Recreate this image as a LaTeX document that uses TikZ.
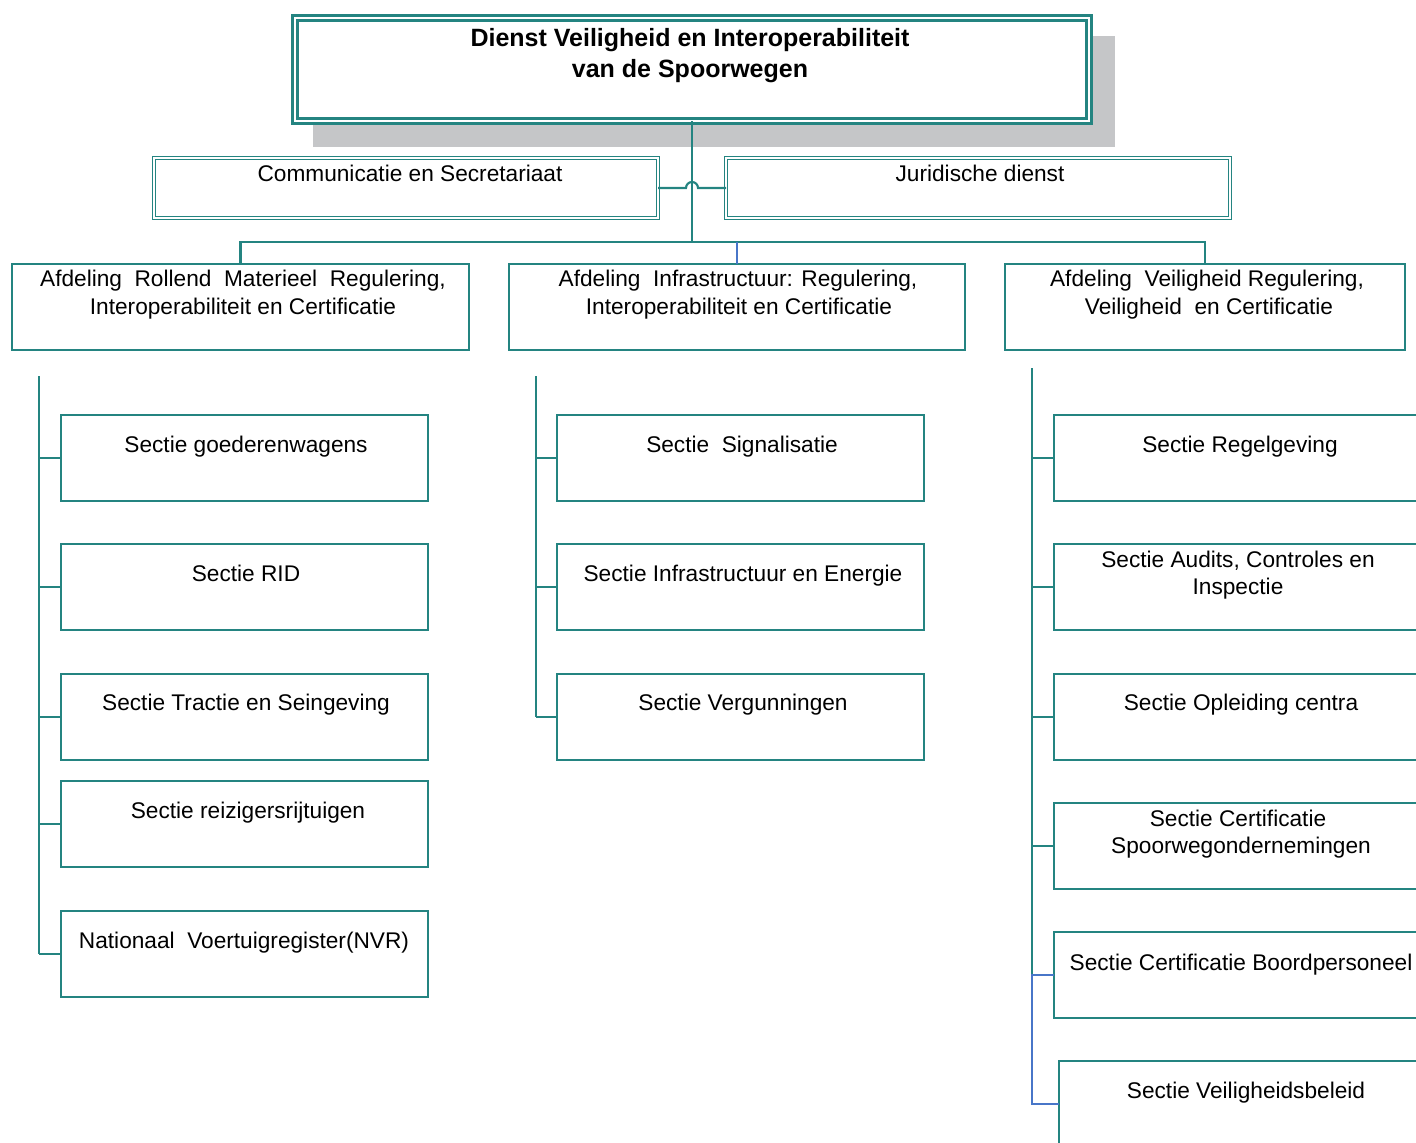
\documentclass[tikz,border=0pt]{standalone}
\usepackage{fontspec}
\setmainfont{Liberation Sans}
\usetikzlibrary{calc}
\definecolor{teal1}{RGB}{36,132,129}
\definecolor{blue1}{RGB}{72,118,200}
\definecolor{shadowgray}{RGB}{197,198,200}
\begin{document}
\begin{tikzpicture}[x=0.75pt,y=-0.75pt,
  sz/.style 2 args={minimum width=#1*0.75pt,minimum height=#2*0.75pt},
  box/.style={rectangle,draw=teal1,line width=1.6pt,fill=white,inner sep=0pt,outer sep=0pt},
  dbox/.style={rectangle,draw=teal1,double=white,line width=1.3pt,double distance=1.0pt,fill=white,inner sep=0pt,outer sep=0pt},
  tbox/.style={rectangle,draw=teal1,double=white,line width=2.0pt,double distance=1.3pt,fill=white,inner sep=0pt,outer sep=0pt},
  lbl/.style={anchor=base,inner sep=0pt,font=\fontsize{17}{20}\selectfont},
  ttl/.style={anchor=base,inner sep=0pt,font=\fontsize{18.75}{23}\selectfont\bfseries},
  conn/.style={draw=teal1,line width=1.6pt},
  bconn/.style={draw=blue1,line width=1.6pt}]
\useasboundingbox (0,0) rectangle (1416,1142);
\clip (0,0) rectangle (1416,1142);

% shadow of the top box
\fill[shadowgray] (313,36) rectangle (1115,147);

% boxes
\node[tbox,sz={794}{103}] (top) at (692,69.5) {};
\node[dbox,sz={504}{60}] (comm) at (406,188) {};
\node[dbox,sz={504}{60}] (jur) at (978,188) {};
\node[box,sz={457}{86}] (dL) at (240.5,307) {};
\node[box,sz={456}{86}] (dM) at (737,307) {};
\node[box,sz={400}{86}] (dR) at (1205,307) {};

\node[box,sz={367}{86}] (L1) at (244.5,458) {};
\node[box,sz={367}{86}] (L2) at (244.5,587) {};
\node[box,sz={367}{86}] (L3) at (244.5,717) {};
\node[box,sz={367}{86}] (L4) at (244.5,824) {};
\node[box,sz={367}{86}] (L5) at (244.5,954) {};

\node[box,sz={367}{86}] (M1) at (740.5,458) {};
\node[box,sz={367}{86}] (M2) at (740.5,587) {};
\node[box,sz={367}{86}] (M3) at (740.5,717) {};

\node[box,sz={372}{86}] (R1) at (1240,458) {};
\node[box,sz={372}{86}] (R2) at (1240,587) {};
\node[box,sz={372}{86}] (R3) at (1240,717) {};
\node[box,sz={372}{86}] (R4) at (1240,846) {};
\node[box,sz={372}{86}] (R5) at (1240,975) {};
\node[box,sz={372}{86}] (R6) at (1245,1104) {};

% connectors
\coordinate (bus) at (692,242);
\draw[conn] (comm.east) -- ($(top.south |- comm.east)+(-6,0)$)
  arc[start angle=180,end angle=0,radius=4.5pt] -- (jur.west);
\draw[conn] (top.south) -- (bus);
\draw[conn] (dL.north) -- (dL.north |- bus) -- (dR.north |- bus) -- (dR.north);
\draw[bconn] (dM.north |- bus) -- (dM.north);

\coordinate (Ltop) at (39,376);
\draw[conn] (Ltop) -- (Ltop |- L5.west);
\foreach \b in {L1,L2,L3,L4,L5} \draw[conn] (Ltop |- \b.west) -- (\b.west);

\coordinate (Mtop) at (536,376);
\draw[conn] (Mtop) -- (Mtop |- M3.west);
\foreach \b in {M1,M2,M3} \draw[conn] (Mtop |- \b.west) -- (\b.west);

\coordinate (Rtop) at (1032,368);
\draw[conn] (Rtop) -- (Rtop |- R5.west);
\foreach \b in {R1,R2,R3,R4} \draw[conn] (Rtop |- \b.west) -- (\b.west);
\draw[bconn] (R5.west) -- (Rtop |- R5.west) -- (Rtop |- R6.west) -- (R6.west);

% texts
\node[ttl] (tA) at (690,46) {Dienst Veiligheid en Interoperabiliteit};
\node[ttl] (tB) at (690,77) {van de Spoorwegen};
\node[lbl] (tcomm) at (410,181) {Communicatie en Secretariaat};
\node[lbl] (tjur) at (980,181) {Juridische dienst};

\node[lbl] (tdLa) at (243,286) {Afdeling~ Rollend~ Materieel~ Regulering,};
\node[lbl] (tdLb) at (243,314) {Interoperabiliteit en Certificatie};
\node[lbl] (tdMa) at (738,286) {Afdeling~ Infrastructuur: Regulering,};
\node[lbl] (tdMb) at (739,314) {Interoperabiliteit en Certificatie};
\node[lbl] (tdRa) at (1207,286) {Afdeling~ Veiligheid Regulering,};
\node[lbl] (tdRb) at (1209,314) {Veiligheid~ en Certificatie};

\node[lbl] (tL1) at (246,452) {Sectie goederenwagens};
\node[lbl] (tL2) at (246,581) {Sectie RID};
\node[lbl] (tL3) at (246,710) {Sectie Tractie en Seingeving};
\node[lbl] (tL4) at (248,818) {Sectie reizigersrijtuigen};
\node[lbl] (tL5) at (244,948) {Nationaal~ Voertuigregister(NVR)};

\node[lbl] (tM1) at (742,452) {Sectie~ Signalisatie};
\node[lbl] (tM2) at (743,581) {Sectie Infrastructuur en Energie};
\node[lbl] (tM3) at (743,710) {Sectie Vergunningen};

\node[lbl] (tR1) at (1240,452) {Sectie Regelgeving};
\node[lbl] (tR2a) at (1238,567) {Sectie Audits, Controles en};
\node[lbl] (tR2b) at (1238,594) {Inspectie};
\node[lbl] (tR3) at (1241,710) {Sectie Opleiding centra};
\node[lbl] (tR4a) at (1238,826) {Sectie Certificatie};
\node[lbl] (tR4b) at (1241,853) {Spoorwegondernemingen};
\node[lbl] (tR5) at (1241,970) {Sectie Certificatie Boordpersoneel};
\node[lbl] (tR6) at (1246,1098) {Sectie Veiligheidsbeleid};
\end{tikzpicture}
\end{document}
